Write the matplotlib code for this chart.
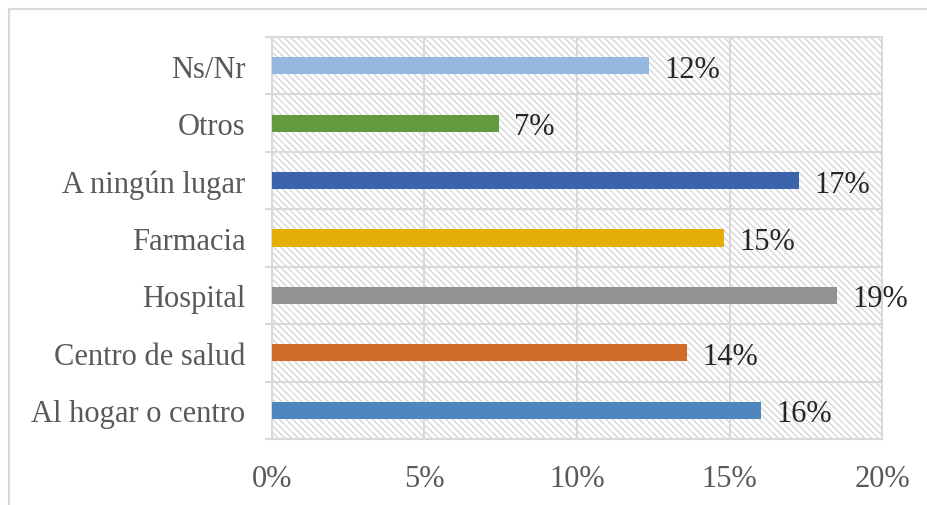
import numpy as np
import matplotlib
matplotlib.use('Agg')
import matplotlib.pyplot as plt
from matplotlib.patches import Rectangle
from matplotlib.ticker import FuncFormatter

# data (bottom to top)
categories = ['Al hogar o centro', 'Centro de salud', 'Hospital', 'Farmacia',
              'A ningún lugar', 'Otros', 'Ns/Nr']
values = [0.1603, 0.1360, 0.1852, 0.1482, 0.1728, 0.0744, 0.1236]
labels = ['16%', '14%', '19%', '15%', '17%', '7%', '12%']
colors = ['#4E87BD', '#D06B28', '#929292', '#E5AE06', '#3B64AD', '#629A3E', '#95B8DE']
xticks = [0, 0.05, 0.10, 0.15, 0.20]

plt.rcParams['font.family'] = ['Liberation Serif', 'DejaVu Serif']
plt.rcParams['hatch.color'] = '#d6d6d6'
plt.rcParams['hatch.linewidth'] = 1.0

fig = plt.figure(figsize=(9.28, 5.06), dpi=100)
ax = fig.add_axes([272/928, 1 - 440/506, 610/928, 402/506])

# outer chart frame (cut off at right/bottom like the reference)
fig.patches.append(Rectangle((9/928, -0.1), 1.1, 1 - 10/506 + 0.1,
                             transform=fig.transFigure, fill=False,
                             edgecolor='#d9d9d9', linewidth=1.5))

# hatched plot background
ax.add_patch(Rectangle((0, 0), 1, 1, transform=ax.transAxes, facecolor='white',
                       edgecolor='#d6d6d6', hatch='\\\\\\\\\\', linewidth=0, zorder=0))

y = np.arange(len(categories))
ax.barh(y, values, height=0.3, color=colors, zorder=3)
for yi, v, lab in zip(y, values, labels):
    ax.annotate(lab, (v, yi), xytext=(11, -2.5), textcoords='offset points',
                va='center', ha='left', fontsize=22, color='#262626', zorder=4)

ax.set_xlim(0, 0.20)
ax.set_ylim(-0.5, len(categories) - 0.5)
ax.set_xticks(xticks)
ax.xaxis.set_major_formatter(FuncFormatter(lambda v, p: '%d%%' % round(v * 100)))
ax.set_yticks(y)
ax.set_yticklabels(categories)
ax.set_yticks(np.arange(-0.5, len(categories)), minor=True)

ax.tick_params(axis='y', which='major', length=0, pad=19, labelsize=22,
               labelcolor='#595959')
ax.tick_params(axis='y', which='minor', length=5, width=1.5, color='#d9d9d9')
ax.tick_params(axis='x', which='major', length=0, pad=18, labelsize=22,
               labelcolor='#595959')

ax.grid(axis='y', which='minor', color='#d9d9d9', linewidth=1.5, zorder=1)
ax.grid(axis='x', which='major', color='#d9d9d9', linewidth=1.5, zorder=1)
ax.set_axisbelow(True)
for s in ax.spines.values():
    s.set_color('#d9d9d9')
    s.set_linewidth(1.5)

fig.savefig('out.png', dpi=100)
